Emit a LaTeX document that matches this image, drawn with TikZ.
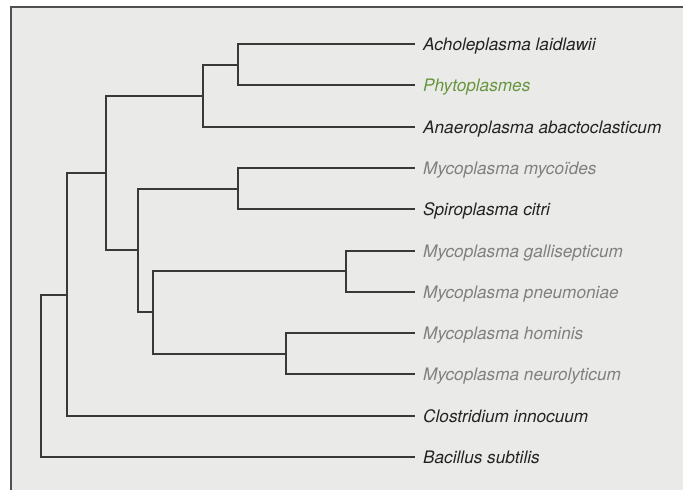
\documentclass[tikz,border=0pt]{standalone}
\usepackage{fontspec}
\setmainfont{TeX Gyre Heros}
\usetikzlibrary{positioning}
\definecolor{paper}{RGB}{234,234,232}
\definecolor{frame}{RGB}{80,80,80}
\definecolor{ink}{RGB}{35,35,35}
\definecolor{mute}{RGB}{128,128,128}
\definecolor{leaf}{RGB}{104,150,62}
\tikzset{
  taxon/.style={anchor=west,inner xsep=8pt,inner ysep=0pt,text height=12pt,text depth=0pt,
    font=\fontsize{17.2}{20}\selectfont\itshape,text=#1},
  taxon/.default=ink,
  branch/.style={draw=ink!90,line width=2pt},
}
\begin{document}
\begin{tikzpicture}[x=1pt,y=-1pt]
    \useasboundingbox (0,0) rectangle (683,490);
    \fill[paper] (11,7) rectangle (683,490);
    \draw[frame,line width=1.6pt] (11,490) -- (11,7) -- (683,7);
    % leaves
    \node[taxon] (achole) at (415,44) {Acholeplasma laidlawii};
    \node[taxon=leaf] (phyto) at (415,85) {Phytoplasmes};
    \node[taxon] (anaero) at (415,127) {Anaeroplasma abactoclasticum};
    \node[taxon=mute] (mycoides) at (415,168) {Mycoplasma mycoïdes};
    \node[taxon] (spiro) at (415,209) {Spiroplasma citri};
    \node[taxon=mute] (galli) at (415,251) {Mycoplasma gallisepticum};
    \node[taxon=mute] (pneumo) at (415,292) {Mycoplasma pneumoniae};
    \node[taxon=mute] (hominis) at (415,333) {Mycoplasma hominis};
    \node[taxon=mute] (neuro) at (415,374) {Mycoplasma neurolyticum};
    \node[taxon] (clostri) at (415,416) {Clostridium innocuum};
    \node[taxon] (bacillus) at (415,457) {Bacillus subtilis};
    % forks
    \coordinate (acpl) at (238,65);
    \coordinate (acan) at (203,96);
    \coordinate (mysp) at (238,189);
    \coordinate (gapn) at (346,271);
    \coordinate (hone) at (286,354);
    \coordinate (myco) at (153,312);
    \coordinate (spmy) at (138,250);
    \coordinate (moll) at (106,173);
    \coordinate (firm) at (67,295);
    \coordinate (root) at (41,376);
    \draw[branch] (acpl) |- (achole.west) (acpl) |- (phyto.west);
    \draw[branch] (acan) |- (acpl) (acan) |- (anaero.west);
    \draw[branch] (mysp) |- (mycoides.west) (mysp) |- (spiro.west);
    \draw[branch] (gapn) |- (galli.west) (gapn) |- (pneumo.west);
    \draw[branch] (hone) |- (hominis.west) (hone) |- (neuro.west);
    \draw[branch] (myco) |- (gapn) (myco) |- (hone);
    \draw[branch] (spmy) |- (mysp) (spmy) |- (myco);
    \draw[branch] (moll) |- (acan) (moll) |- (spmy);
    \draw[branch] (firm) |- (moll) (firm) |- (clostri.west);
    \draw[branch] (root) |- (firm) (root) |- (bacillus.west);
\end{tikzpicture}
\end{document}
